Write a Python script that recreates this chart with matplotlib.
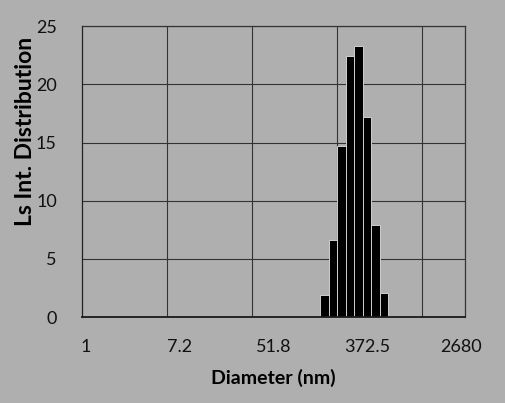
import matplotlib
matplotlib.use("Agg")
import matplotlib.pyplot as plt
import numpy as np

# =====================
# Data
# =====================
tick_diam = [1, 7.2, 51.8, 372.5, 2680]
tick_labels = ['1', '7.2', '51.8', '372.5', '2680']

bar_diam = [151.9, 181.7, 217.5, 260.2, 311.3, 372.5, 445.7, 533.3]
bar_height = [1.9, 6.6, 14.7, 22.4, 23.3, 17.2, 7.9, 2.1]

# =====================
# Styling
# =====================
plt.rcParams.update({
    'font.family': ['Lato', 'DejaVu Sans'],
    'font.size': 13,
})

bg = '#afafaf'
step = 1.1965          # ratio between neighbouring size bins
fill = 0.5             # half bar width, in bins (log space)

fig = plt.figure(figsize=(5.05, 4.03), dpi=100, facecolor=bg)
ax = fig.add_axes([0.162, 0.213, 0.759, 0.722], facecolor=bg)

d = np.array(bar_diam)
left = d * step ** -fill
right = d * step ** fill
ax.bar(left, bar_height, width=right - left, align='edge',
       color='black', edgecolor='#cfcfcf', linewidth=0.7, zorder=3)

ax.set_xscale('log')
ax.set_xlim(tick_diam[0] * step ** -0.5, tick_diam[-1] * step ** 0.5)
ax.set_ylim(0, 25)

ax.set_xticks(tick_diam)
ax.set_xticklabels(tick_labels)
ax.xaxis.set_minor_locator(matplotlib.ticker.NullLocator())
ax.set_yticks(np.arange(0, 26, 5))
ax.tick_params(axis='x', length=0, pad=16, colors='#111111')
ax.tick_params(axis='y', length=0, pad=18, colors='#111111')

# gridlines: horizontal every 5, vertical every 10 bins
for y in range(5, 26, 5):
    ax.axhline(y, color='#333333', lw=0.8, zorder=1)
for g in [5.50, 33.05, 198.8, 1195]:
    ax.axvline(g, color='#333333', lw=0.8, zorder=1)

for s in ax.spines.values():
    s.set_color('#333333')
    s.set_linewidth(0.9)
ax.spines['left'].set_color('#222222')
ax.spines['bottom'].set_color('#1a1a1a')
ax.spines['bottom'].set_linewidth(1.3)
ax.spines['bottom'].set_zorder(4)

ax.set_xlabel('Diameter (nm)', fontweight='bold', fontsize=14, labelpad=10)
ax.set_ylabel('Ls Int. Distribution', fontweight='bold', fontsize=16.5)
ax.yaxis.set_label_coords(-0.12, 0.64)

plt.savefig('out.png', dpi=100, facecolor=bg)
